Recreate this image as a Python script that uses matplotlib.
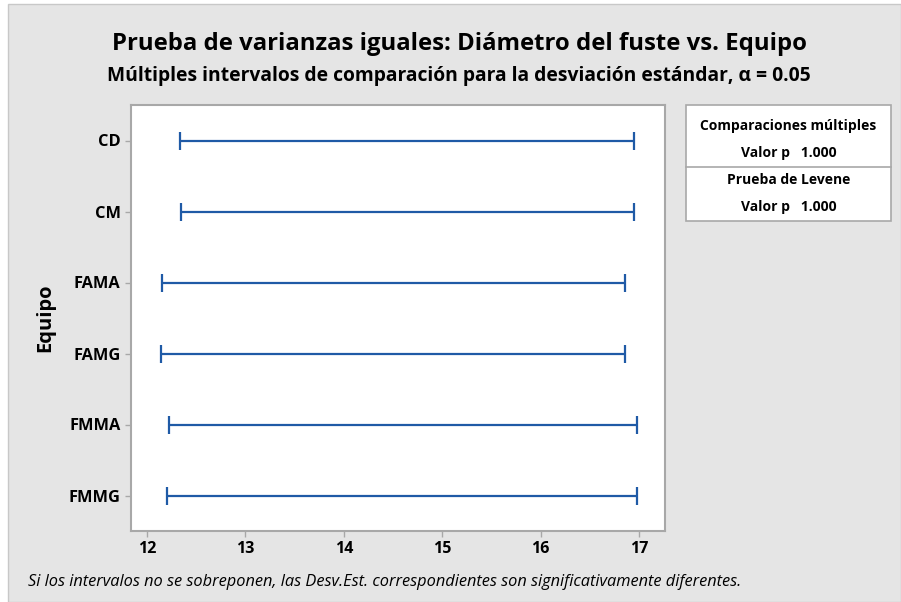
import matplotlib
matplotlib.use("Agg")
import matplotlib.pyplot as plt
from matplotlib.patches import Rectangle
from matplotlib.lines import Line2D

# ---- data ----
categories = ["CD", "CM", "FAMA", "FAMG", "FMMA", "FMMG"]
lower = [12.33, 12.35, 12.15, 12.14, 12.22, 12.20]
upper = [16.95, 16.95, 16.86, 16.86, 16.98, 16.98]
xticks = [12, 13, 14, 15, 16, 17]

title = "Prueba de varianzas iguales: Diámetro del fuste vs. Equipo"
subtitle = "Múltiples intervalos de comparación para la desviación estándar, α = 0.05"
footnote = "Si los intervalos no se sobreponen, las Desv.Est. correspondientes son significativamente diferentes."
legend_lines = ["Comparaciones múltiples", "Valor p   1.000", "Prueba de Levene", "Valor p   1.000"]

plt.rcParams['font.family'] = ['Open Sans', 'DejaVu Sans']

W, H = 901, 602
fig = plt.figure(figsize=(W / 100, H / 100), dpi=100)
fig.patch.set_facecolor('white')

bg = '#e5e5e5'
# outer gray panel with border
fig.patches.append(Rectangle((8 / W, 0), 1 - 8 / W, 1 - 4 / H, transform=fig.transFigure,
                             facecolor=bg, edgecolor='#c8c8c8', linewidth=1.0, zorder=-10))

ax = fig.add_axes([131 / W, 1 - 531 / H, (665 - 131) / W, (531 - 105) / H])
ax.set_facecolor('white')

n = len(categories)
ypos = [n - i for i in range(n)]
blue = '#1f5aa6'
for y, lo, hi in zip(ypos, lower, upper):
    c = (lo + hi) / 2
    ax.errorbar([c], [y], xerr=[[c - lo], [hi - c]], fmt='none', ecolor=blue,
                elinewidth=1.6, capsize=6.2, capthick=1.6)

ax.set_xlim(11.837, 17.264)
ax.set_ylim(0.5, n + 0.5)
ax.set_xticks(xticks)
ax.set_xticklabels([str(t) for t in xticks])
ax.set_yticks(ypos)
ax.set_yticklabels(categories)

for s in ax.spines.values():
    s.set_color('#a8a8a8')
    s.set_linewidth(1.5)
ax.tick_params(axis='both', colors='#a8a8a8', labelcolor='black', direction='out',
               length=4, width=1)
for lab in ax.get_xticklabels():
    lab.set_fontsize(11.5)
    lab.set_fontweight('bold')
for lab in ax.get_yticklabels():
    lab.set_fontsize(11.8)
    lab.set_fontweight('bold')
ax.set_ylabel("Equipo", fontsize=14.5, fontweight='bold', labelpad=10)

fig.text(460 / W, 1 - 44 / H, title, ha='center', va='center', fontsize=17.2,
         fontweight='bold')
fig.text(459 / W, 1 - 76 / H, subtitle, ha='center', va='center', fontsize=13.9,
         fontweight='bold')
fig.text(28 / W, 1 - 582 / H, footnote, ha='left', va='center', fontsize=11.8,
         style='italic')

# legend / p-value box
bx0, bx1, by0, by1 = 686, 891, 105, 221
fig.patches.append(Rectangle((bx0 / W, 1 - by1 / H), (bx1 - bx0) / W, (by1 - by0) / H,
                             transform=fig.transFigure, facecolor='white',
                             edgecolor='#a8a8a8', linewidth=1.2, zorder=1))
fig.lines.append(Line2D([bx0 / W, bx1 / W], [1 - 167 / H, 1 - 167 / H],
                        transform=fig.transFigure, color='#a8a8a8', linewidth=1.2))
cx = (bx0 + bx1) / 2
for yy, txt in zip([126, 153, 180.5, 207], legend_lines):
    fig.text(cx / W, 1 - yy / H, txt, ha='center', va='center', fontsize=10.0,
             fontweight='bold')

fig.savefig("out.png", dpi=100, facecolor=fig.get_facecolor())
